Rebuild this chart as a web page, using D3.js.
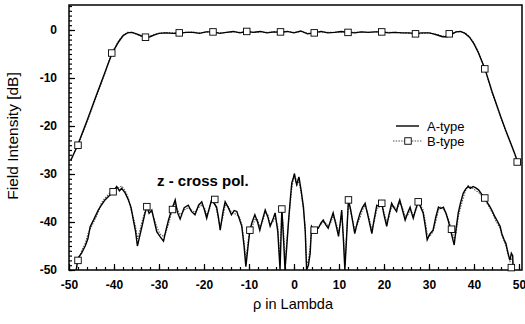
<!DOCTYPE html>
<html><head><meta charset="utf-8">
<script src="https://cdn.jsdelivr.net/npm/d3@7/dist/d3.min.js"></script>
<style>
body{margin:0;background:#fff}
svg{display:block}
text{font-family:"Liberation Sans",Arial,sans-serif;fill:#000}
</style></head><body>
<svg id="c" width="525" height="324"></svg>
<script>
// ---------- data ----------
const xTicks = [-50,-40,-30,-20,-10,0,10,20,30,40,50];
const yTicks = [0,-10,-20,-30,-40,-50];
const seriesNames = ["A-type","B-type"];

// co-polar (main beam)
const coX = [-49.6,-48,-46,-44,-42,-40.5,-39,-38,-37,-36,-35,-34,-33,-32,-31,-30,-28.5,-27,-25.5,-24,-22.5,-21,-19.5,-18,-16.5,-15,-13.5,-12,-10.5,-9,-7.5,-6,-4.5,-3,-1.5,0,1.5,3,4.5,6,7.5,9,10.5,12,13.5,15,16.5,18,19.5,21,22.5,24,25.5,27,28.5,30,31,32,33,34,35,36,37,38,39,40,41,42.4,44,45,46,47,48,49,49.7];
const coA = [-27.2,-23.8,-18.9,-13.8,-8.8,-5.0,-2.5,-1.2,-0.6,-0.5,-0.8,-1.2,-1.5,-1.4,-1.0,-0.7,-0.6,-0.7,-0.7,-0.5,-0.5,-0.7,-0.4,-0.4,-0.7,-0.5,-0.3,-0.6,-0.3,-0.5,-0.3,-0.6,-0.4,-0.5,-0.3,-0.6,-0.2,-0.8,-0.6,-0.3,-0.6,-0.5,-0.3,-0.5,-0.6,-0.4,-0.5,-0.4,-0.4,-0.6,-0.5,-0.6,-0.6,-0.7,-0.6,-0.6,-0.8,-1.1,-1.4,-1.4,-0.9,-0.4,-0.3,-0.7,-1.5,-2.9,-4.8,-8.0,-12.8,-15.5,-18.2,-20.8,-23.2,-25.6,-27.5];
const coB = [-27.0,-24.0,-19.2,-14.1,-9.0,-4.8,-2.3,-1.1,-0.5,-0.5,-0.9,-1.3,-1.5,-1.3,-0.9,-0.7,-0.5,-0.6,-0.6,-0.5,-0.4,-0.6,-0.4,-0.4,-0.6,-0.5,-0.4,-0.5,-0.3,-0.5,-0.4,-0.5,-0.4,-0.4,-0.3,-0.5,-0.3,-0.7,-0.6,-0.4,-0.5,-0.5,-0.4,-0.5,-0.5,-0.4,-0.5,-0.4,-0.4,-0.5,-0.5,-0.6,-0.7,-0.8,-0.7,-0.6,-0.8,-1.0,-1.3,-1.2,-0.8,-0.4,-0.3,-0.6,-1.4,-2.7,-4.6,-8.1,-13.0,-15.7,-18.4,-21.0,-23.4,-25.8,-27.6];
const coMarkerX = [-48,-40.5,-33,-25.5,-18,-10.5,-3,4.5,12,19.5,27,34.5,42.4,49.6];
const coMarkerY = [-24,-4.8,-1.5,-0.6,-0.4,-0.3,-0.4,-0.6,-0.5,-0.4,-0.8,-0.8,-8.1,-27.5];

// cross-polar (z - cross pol.)
const crossX = [-48.4,-48,-47.2,-46.4,-45.8,-45.3,-44.5,-43.5,-42.8,-42,-41,-40.2,-39.4,-38.8,-38.3,-37.5,-36.8,-36.2,-35.7,-35.2,-34.8,-34.3,-33.8,-33.2,-32.7,-32.2,-31.6,-31,-30.5,-29.8,-29,-28.4,-27.9,-27.2,-26.4,-25.9,-25.3,-24.4,-23.5,-22.8,-22,-21.2,-20.5,-19.9,-19.4,-18.8,-18.3,-17.7,-17.2,-16.8,-16.4,-15.8,-15.3,-14.6,-13.9,-13.3,-12.7,-12.1,-11.6,-11.1,-10.7,-10.2,-9.8,-9.3,-8.7,-8.1,-7.6,-7,-6.4,-5.8,-5.3,-4.7,-4.2,-3.6,-3.1,-2.7,-2.3,-2,-1.6,-1.2,-0.8,-0.5,-0.2,0.1,0.4,0.6,0.9,1.1,1.6,2.1,2.5,2.8,3.2,3.6,3.9,4.5,5.4,6,6.5,7,7.6,8.1,8.7,9.3,9.9,10.3,10.6,11,11.3,11.7,12.1,12.6,13.5,14.1,14.7,15.2,15.8,16.5,17.3,17.8,18.4,19,19.5,20,20.6,21.1,21.7,22.2,22.8,23.1,23.5,24.1,24.7,25.3,25.8,26.1,26.5,27,27.6,28.1,28.7,29.2,29.6,30.2,30.9,31.5,32.1,32.6,33.2,33.8,34.3,35,35.6,36,36.5,37,37.6,38.1,38.7,39.2,39.8,40.4,41,41.7,42.4,43,43.6,44.1,44.7,45.3,45.8,46.2,46.7,47.1,47.4,47.7,48,48.3,48.6,48.7];
const crossA = [-50,-47.5,-46.5,-45,-43.5,-41,-39.5,-37.5,-36.5,-35.4,-34.5,-33.7,-32.6,-33.5,-33,-34,-35.4,-37,-39.6,-42,-45,-43,-41,-38.5,-36.8,-38.2,-37.5,-40,-42,-43,-44,-41.5,-39.6,-37.5,-35.4,-38,-39.4,-37,-36.5,-37.8,-38.5,-36.5,-35.8,-37.5,-39.2,-37,-35.4,-36.2,-36.9,-39,-41.7,-38,-35.8,-37,-38.5,-37.6,-37.8,-39.5,-40.9,-45,-49.3,-45,-41.7,-40,-38.5,-40,-41.7,-39.5,-37.5,-39,-40.9,-39.5,-38.1,-42,-50,-37.3,-44,-50,-45,-39.6,-35,-31.9,-31,-29.9,-31.5,-32.2,-31.2,-30.6,-33.5,-36.9,-42,-50,-49,-46.5,-40.9,-41.7,-41.3,-40.2,-39.6,-40.5,-41.3,-39.8,-38.1,-40.5,-43,-40,-37.5,-44,-50,-43,-35.4,-37.5,-42.4,-40,-38.1,-37,-36.1,-39,-42.4,-39.5,-36.5,-36.8,-36.1,-38.5,-40.9,-38.5,-36.1,-37,-37.8,-36.5,-35.4,-37.5,-39.6,-38,-36.9,-38,-39.2,-37.5,-35.8,-36.8,-38.1,-41,-43.7,-42.5,-41.7,-39,-36.9,-37.2,-36.9,-38.3,-39.8,-42.5,-44.8,-41.5,-38.1,-36,-34,-33.2,-32.6,-33,-32.6,-32.9,-33.3,-34.2,-35,-36,-36.9,-37.8,-39,-40,-40.9,-42.5,-43.7,-44.5,-45.8,-47,-47.9,-46.5,-47,-50];
const crossB = [-50,-48,-46,-44.5,-42.5,-41.5,-40,-38,-36,-35,-34,-33.5,-33,-32.8,-32.5,-33.5,-35,-37.5,-39,-41,-43.5,-42,-40,-38,-36.5,-37.5,-38,-39.5,-41,-42.5,-43,-42,-40.5,-38,-36,-37.5,-38.5,-37.5,-37,-37.5,-38,-37,-36.5,-37,-38.5,-37.5,-35.2,-35.8,-37.5,-39.5,-41,-39,-36.5,-36.8,-38,-38.2,-38.5,-39,-40.5,-44,-48,-44,-41.7,-41,-39.5,-39.5,-41,-40,-38,-38.5,-40.5,-40,-38.8,-41,-48,-37.2,-42,-49,-44,-40,-36,-33,-31.5,-30.5,-31,-32.5,-31.8,-31.5,-34,-37.5,-41,-49,-48,-45,-41.5,-41.7,-41,-40.5,-40,-40.2,-40.8,-40.3,-38.8,-40,-42,-40.5,-38,-43,-49,-42,-35.3,-38,-41.5,-40.5,-39,-37.5,-36.5,-38.5,-41.5,-40,-37.5,-36.5,-36,-38,-40,-39,-36.8,-36.8,-37.2,-37,-36,-37,-38.8,-38.5,-37.5,-37.8,-38.5,-37.8,-36,-36.5,-37.5,-40,-42.5,-43,-42,-40,-37.5,-36.8,-37.3,-38,-39.5,-41.5,-43.5,-42.5,-39,-37,-35,-33.5,-32.4,-32.7,-33,-33.5,-33.8,-34.5,-35.2,-36.3,-37.2,-38.2,-39.5,-40.5,-41.3,-42.8,-44,-45,-46.2,-47.3,-48.2,-47.5,-48,-50];
const crossMarkerX = [-48,-40.2,-32.7,-27,-17.6,-9.8,-2.7,4.5,12.1,19.5,27.6,35,42.4,48.3];
const crossMarkerY = [-48,-33.7,-36.8,-37.4,-35.3,-41.7,-37.3,-41.7,-35.4,-36.1,-35.8,-41.5,-35,-49.5];

// ---------- chart ----------
const svg = d3.select("#c");
const x = d3.scaleLinear().domain([-50,50]).range([69,519]);
const y = d3.scaleLinear().domain([-50,0]).range([270,30]);
const frameTop = 5, frameRight = 522;

// minor ticks
svg.append("g").attr("transform","translate(69,0)")
  .call(d3.axisLeft(y).tickValues(d3.range(-50,6,1)).tickSize(-3).tickFormat(""))
  .call(g=>g.select(".domain").remove());
svg.append("g").attr("transform","translate(0,270)")
  .call(d3.axisBottom(x).tickValues(d3.range(-50,51,2)).tickSize(-3).tickFormat(""))
  .call(g=>g.select(".domain").remove());
// major ticks + labels
svg.append("g").attr("transform","translate(69,0)")
  .call(d3.axisLeft(y).tickValues(yTicks).tickSize(-6).tickPadding(12).tickFormat(d=>String(d)))
  .call(g=>g.select(".domain").remove());
svg.append("g").attr("transform","translate(0,270)")
  .call(d3.axisBottom(x).tickValues(xTicks).tickSize(-6).tickPadding(10).tickFormat(d=>String(d)))
  .call(g=>g.select(".domain").remove());
svg.selectAll(".tick line").attr("stroke","#000").attr("stroke-width",1.2);
svg.selectAll(".tick text").style("font-size","12px").style("font-weight","bold")
  .style("font-family","'Liberation Sans',Arial,sans-serif").attr("fill","#000");

// frame
svg.append("rect").attr("x",69).attr("y",frameTop).attr("width",frameRight-69).attr("height",270-frameTop)
  .attr("fill","none").attr("stroke","#000").attr("stroke-width",1.5);

const line = d3.line().x(d=>x(d[0])).y(d=>y(d[1]));
const bStyle = p => p.attr("fill","none").attr("stroke","#555").attr("stroke-width",1.1).attr("stroke-dasharray","1.5,1.2");
const aStyle = p => p.attr("fill","none").attr("stroke","#000").attr("stroke-width",1.4);

svg.append("path").datum(d3.zip(coX,coB)).attr("d",line).call(bStyle);
svg.append("path").datum(d3.zip(crossX,crossB)).attr("d",line).call(bStyle);
svg.append("path").datum(d3.zip(coX,coA)).attr("d",line).call(aStyle);
svg.append("path").datum(d3.zip(crossX,crossA)).attr("d",line).call(aStyle);

const ms = 6.5;
const markers = d3.zip(coMarkerX,coMarkerY).concat(d3.zip(crossMarkerX,crossMarkerY));
svg.append("g").selectAll("rect").data(markers).join("rect")
  .attr("x",d=>x(d[0])-ms/2).attr("y",d=>y(d[1])-ms/2).attr("width",ms).attr("height",ms)
  .attr("fill","#fff").attr("stroke","#000").attr("stroke-width",0.9);

// legend
const lg = svg.append("g");
lg.append("line").attr("x1",396).attr("x2",419).attr("y1",126).attr("y2",126).attr("stroke","#000").attr("stroke-width",1.4);
lg.append("line").attr("x1",393).attr("x2",422).attr("y1",141).attr("y2",141).call(bStyle);
lg.append("rect").attr("x",408-ms/2).attr("y",141-ms/2).attr("width",ms).attr("height",ms)
  .attr("fill","#fff").attr("stroke","#000").attr("stroke-width",0.9);
lg.selectAll("text").data(seriesNames).join("text")
  .attr("x",427).attr("y",(d,i)=>131+i*15).style("font-size","13px").text(d=>d);

// annotations and titles
svg.append("text").attr("x",157).attr("y",186).style("font-size","15px").style("font-weight","bold").text("z - cross pol.");
svg.append("text").attr("x",293).attr("y",309).attr("text-anchor","middle").style("font-size","14.5px").text("ρ in Lambda");
svg.append("text").attr("transform","translate(18,136) rotate(-90)").attr("text-anchor","middle").style("font-size","15.5px").text("Field Intensity [dB]");
</script></body></html>
